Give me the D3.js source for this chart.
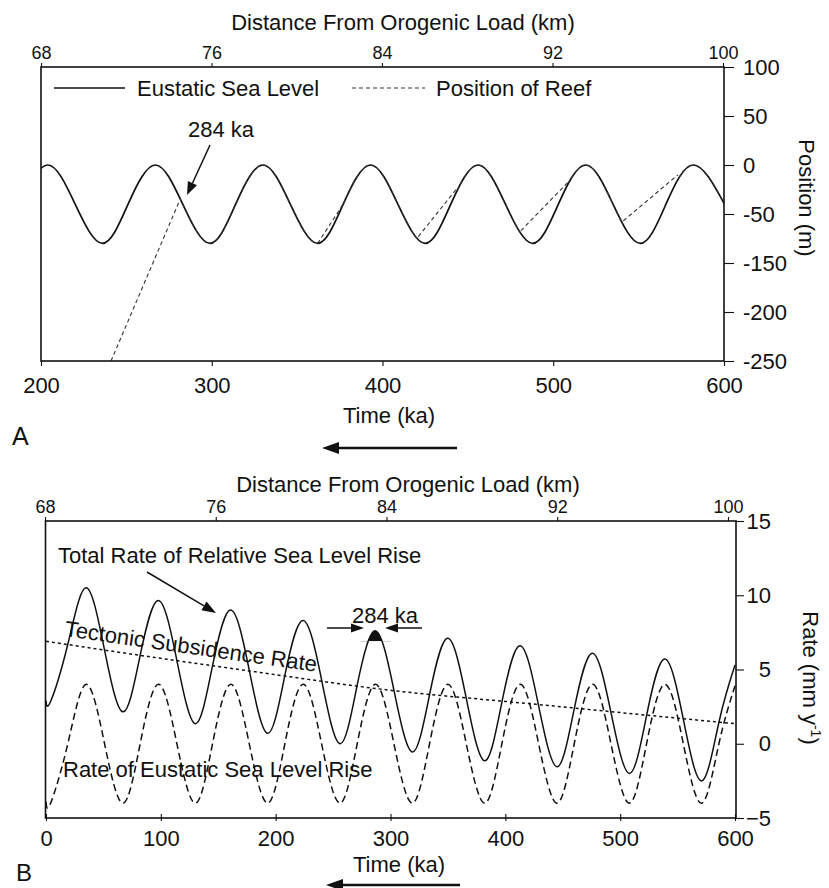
<!DOCTYPE html>
<html>
<head>
<meta charset="utf-8">
<style>
    body{ margin:0; background:#fff; }
    text{ font-family:"Liberation Sans", Arial, Helvetica, sans-serif; fill:#111; }
    .frame{ fill:none; stroke:#111; stroke-width:1.6; }
    .sea{ fill:none; stroke:#111; stroke-width:1.7; }
    .reef{ fill:none; stroke:#333; stroke-width:1.1; stroke-dasharray:4,3; }
    .total{ fill:none; stroke:#111; stroke-width:1.5; }
    .eustRate{ fill:none; stroke:#111; stroke-width:1.5; stroke-dasharray:7,4; }
    .tect{ fill:none; stroke:#111; stroke-width:1.5; stroke-dasharray:3,3; }
</style>
</head>
<body>
<script src="https://cdn.jsdelivr.net/npm/d3@7/dist/d3.min.js"></script>
<script>
var width = 829, height = 888;

// ---- panel A : eustatic sea level and reef position (m) vs time (ka)
// first point lies just left of the frame so the curve enters on its rising limb
var seaTime  = [188, 204, 220, 236, 251, 267, 283, 299, 314, 330, 346, 362, 377, 393, 409, 425, 440, 456, 472, 488, 503, 519, 535, 551, 566, 582, 600];
var seaLevel = [-40, 0, -40, -80, -40, 0, -40, -80, -40, 0, -40, -80, -40, 0, -40, -80, -40, 0, -40, -80, -40, 0, -40, -80, -40, 0, -39];

// reef leaves the sea level curve and climbs straight back up to it
var reefLeaveTime = [241, 362, 421, 481, 541];
var reefLeavePos  = [-200, -80, -73, -67, -57];
var reefJoinTime  = [281, 377, 444, 509, 573];
var reefJoinPos   = [-37, -40, -23, -17, -10];

var timeTicksA = [200, 300, 400, 500, 600];
var kmTicks = [68, 76, 84, 92, 100];
// the printed axis skips -100, ticks are evenly spaced
var posTicks = [100, 50, 0, -50, -100, -150, -200];
var posTickLabels = ["100", "50", "0", "-50", "-150", "-200", "-250"];

// ---- panel B : rates (mm/y) vs time (ka)
var rateTime  = [0, 4, 19, 35, 51, 67, 82, 98, 114, 130, 145, 161, 177, 193, 208, 224, 240, 256, 271, 287, 303, 319, 334, 350, 366, 382, 397, 413, 429, 445, 460, 476, 492, 508, 523, 539, 555, 571, 586, 600];
var eustRate  = [-3.9, -4, 0, 4, 0, -4, 0, 4, 0, -4, 0, 4, 0, -4, 0, 4, 0, -4, 0, 4, 0, -4, 0, 4, 0, -4, 0, 4, 0, -4, 0, 4, 0, -4, 0, 4, 0, -4, 0, 3.9];
var totalRate = [2.9, 2.85, 6.7, 10.5, 6.3, 2.15, 5.95, 9.65, 5.6, 1.35, 5.25, 9.0, 4.95, 0.7, 4.6, 8.3, 4.3, 0.0, 3.95, 7.6, 3.6, -0.55, 3.3, 7.1, 3.05, -1.15, 2.8, 6.6, 2.55, -1.55, 2.35, 6.1, 2.1, -2.0, 1.9, 5.7, 1.65, -2.5, 1.45, 5.3];
var tectTime = [0, 100, 200, 300, 400, 500, 600];
var tectRate = [6.9, 5.75, 4.65, 3.6, 2.85, 2.1, 1.35];

var timeTicksB = [0, 100, 200, 300, 400, 500, 600];
var rateTicks = [-5, 0, 5, 10, 15];
var capWindow = [274, 300];   // blackened peak at 284 ka
var capLevel = 6.9;

var FONT = "Liberation Sans, Arial, Helvetica, sans-serif";

var svg = d3.select("body").append("svg")
    .attr("width", width)
    .attr("height", height);

var defs = svg.append("defs");

function arrow(x1, y1, x2, y2, len, half, w){
    var a = Math.atan2(y2 - y1, x2 - x1);
    var bx = x2 - len * Math.cos(a), by = y2 - len * Math.sin(a);
    svg.append("line")
        .attr("x1", x1).attr("y1", y1).attr("x2", bx).attr("y2", by)
        .attr("stroke", "#111").attr("stroke-width", w);
    var px = -Math.sin(a) * half, py = Math.cos(a) * half;
    svg.append("path")
        .attr("d", "M" + x2 + "," + y2 + "L" + (bx + px) + "," + (by + py) + "L" + (bx - px) + "," + (by - py) + "Z")
        .attr("fill", "#111");
}

function label(x, y, txt, size, anchor){
    return svg.append("text")
        .attr("x", x).attr("y", y)
        .attr("font-size", size)
        .attr("text-anchor", anchor || "start")
        .text(txt);
}

function styleAxis(g, size){
    g.attr("font-family", FONT).attr("font-size", size);
    g.select(".domain").remove();
    g.selectAll(".tick line").attr("stroke", "#111").attr("stroke-width", 1.1);
    g.selectAll(".tick text").attr("fill", "#111");
}

/* ================= panel A ================= */
var xA = d3.scaleLinear().domain([200, 600]).range([41, 724]);
var kmA = d3.scaleLinear().domain([68, 100]).range([41, 723]);
var yA = d3.scaleLinear().domain([-200, 100]).range([361, 67]);

defs.append("clipPath").attr("id", "clipA")
    .append("rect").attr("x", 41).attr("y", 67).attr("width", 683).attr("height", 294);

var seaLine = d3.line()
    .x(function(d){ return xA(d[0]); })
    .y(function(d){ return yA(d[1]); })
    .curve(d3.curveNatural);
var seaPts = seaTime.map(function(t, i){ return [t, seaLevel[i]]; });

var plotA = svg.append("g").attr("clip-path", "url(#clipA)");

// reef follows the sea level between the straight climbs
var follow = defs.append("clipPath").attr("id", "clipReef");
reefJoinTime.forEach(function(t, i){
    var end = i + 1 < reefLeaveTime.length ? reefLeaveTime[i + 1] : 600;
    follow.append("rect")
        .attr("x", xA(t)).attr("y", 67)
        .attr("width", xA(end) - xA(t)).attr("height", 294);
});

plotA.append("path").datum(seaPts).attr("class", "sea").attr("d", seaLine);
plotA.append("g").attr("clip-path", "url(#clipReef)")
    .append("path").datum(seaPts).attr("class", "reef").attr("d", seaLine);
reefLeaveTime.forEach(function(t, i){
    plotA.append("line").attr("class", "reef")
        .attr("x1", xA(t)).attr("y1", yA(reefLeavePos[i]))
        .attr("x2", xA(reefJoinTime[i])).attr("y2", yA(reefJoinPos[i]));
});

svg.append("rect").attr("class", "frame")
    .attr("x", 41).attr("y", 67).attr("width", 683).attr("height", 294);

svg.append("g").attr("transform", "translate(0,67)")
    .call(d3.axisTop(kmA).tickValues(kmTicks).tickSize(4).tickPadding(4).tickSizeOuter(0))
    .call(styleAxis, 18);
svg.append("g").attr("transform", "translate(0,361)")
    .call(d3.axisBottom(xA).tickValues(timeTicksA).tickSize(5).tickPadding(11).tickSizeOuter(0))
    .call(styleAxis, 22);
svg.append("g").attr("transform", "translate(724,0)")
    .call(d3.axisRight(yA).tickValues(posTicks)
        .tickFormat(function(d, i){ return posTickLabels[i]; })
        .tickSize(10).tickPadding(9).tickSizeOuter(0))
    .call(styleAxis, 22);

label(403, 30, "Distance From Orogenic Load (km)", 22, "middle");
label(389, 423, "Time (ka)", 22, "middle");
svg.append("text").attr("transform", "translate(799,198) rotate(90)")
    .attr("font-size", 22).attr("text-anchor", "middle").text("Position (m)");

// legend
svg.append("line").attr("x1", 54).attr("x2", 125).attr("y1", 88).attr("y2", 88)
    .attr("stroke", "#111").attr("stroke-width", 1.5);
label(137, 96, "Eustatic Sea Level", 22);
svg.append("line").attr("class", "reef").attr("x1", 352).attr("x2", 425).attr("y1", 88).attr("y2", 88);
label(436, 96, "Position of Reef", 22);

label(188, 137, "284 ka", 22);
arrow(210, 145, 187, 195, 13, 5, 1.5);

label(12, 445, "A", 25);
arrow(457, 448, 322, 448, 17, 6, 2.6);

/* ================= panel B ================= */
var xB = d3.scaleLinear().domain([0, 600]).range([46, 735]);
var kmB = d3.scaleLinear().domain([68, 100]).range([45, 728]);
var yB = d3.scaleLinear().domain([-5, 15]).range([818, 521]);

defs.append("clipPath").attr("id", "clipB")
    .append("rect").attr("x", 45).attr("y", 521).attr("width", 691).attr("height", 297);

var rateLine = function(vals){
    return d3.line()
        .x(function(d, i){ return xB(rateTime[i]); })
        .y(function(d){ return yB(d); })
        .curve(d3.curveNatural)(vals);
};

var plotB = svg.append("g").attr("clip-path", "url(#clipB)");

// black cap on the 284 ka peak
defs.append("clipPath").attr("id", "clipCap")
    .append("rect")
    .attr("x", xB(capWindow[0])).attr("y", 521)
    .attr("width", xB(capWindow[1]) - xB(capWindow[0]))
    .attr("height", yB(capLevel) - 521);
plotB.append("path")
    .attr("clip-path", "url(#clipCap)")
    .attr("fill", "#111")
    .attr("d", d3.area()
        .x(function(d, i){ return xB(rateTime[i]); })
        .y0(yB(capLevel))
        .y1(function(d){ return yB(d); })
        .curve(d3.curveNatural)(totalRate));

plotB.append("path").attr("class", "total").attr("d", rateLine(totalRate));
plotB.append("path").attr("class", "eustRate").attr("d", rateLine(eustRate));
plotB.append("path").attr("class", "tect")
    .attr("d", d3.line()
        .x(function(d, i){ return xB(tectTime[i]); })
        .y(function(d){ return yB(d); })
        .curve(d3.curveNatural)(tectRate));

svg.append("rect").attr("class", "frame")
    .attr("x", 45.5).attr("y", 521).attr("width", 690.5).attr("height", 297);

svg.append("g").attr("transform", "translate(0,521)")
    .call(d3.axisTop(kmB).tickValues(kmTicks).tickSize(4).tickPadding(4).tickSizeOuter(0))
    .call(styleAxis, 18);
var bottomB = svg.append("g").attr("transform", "translate(0,818)")
    .call(d3.axisBottom(xB).tickValues(timeTicksB).tickSize(3).tickPadding(9).tickSizeOuter(0))
    .call(styleAxis, 22);
bottomB.selectAll(".tick line").attr("y1", -4).attr("y2", 3);
var rightB = svg.append("g").attr("transform", "translate(736,0)")
    .call(d3.axisRight(yB).tickValues(rateTicks).tickSize(8).tickPadding(9).tickSizeOuter(0))
    .call(styleAxis, 22);
rightB.selectAll(".tick text").attr("text-anchor", "end").attr("x", 35);

label(408, 492, "Distance From Orogenic Load (km)", 22, "middle");
label(399, 872, "Time (ka)", 22, "middle");
var rl = svg.append("text").attr("transform", "translate(803,678) rotate(90)")
    .attr("font-size", 22).attr("text-anchor", "middle");
rl.append("tspan").text("Rate (mm y");
rl.append("tspan").attr("font-size", 14).attr("dy", -8).text("-1");
rl.append("tspan").attr("dy", 8).text(")");

label(58, 563, "Total Rate of Relative Sea Level Rise", 22);
arrow(147, 572, 216, 613, 14, 5, 1.5);

label(352, 623, "284 ka", 22);
arrow(327, 628, 364, 628, 13, 4.5, 1.5);
arrow(422, 628, 385, 628, 13, 4.5, 1.5);

svg.append("text").attr("transform", "translate(64,636) rotate(8.1)")
    .attr("font-size", 22).text("Tectonic Subsidence Rate");
label(63, 777, "Rate of Eustatic Sea Level Rise", 22);

label(16, 881, "B", 24);
arrow(460, 885, 326, 885, 17, 6, 2.6);
</script>
</body>
</html>
